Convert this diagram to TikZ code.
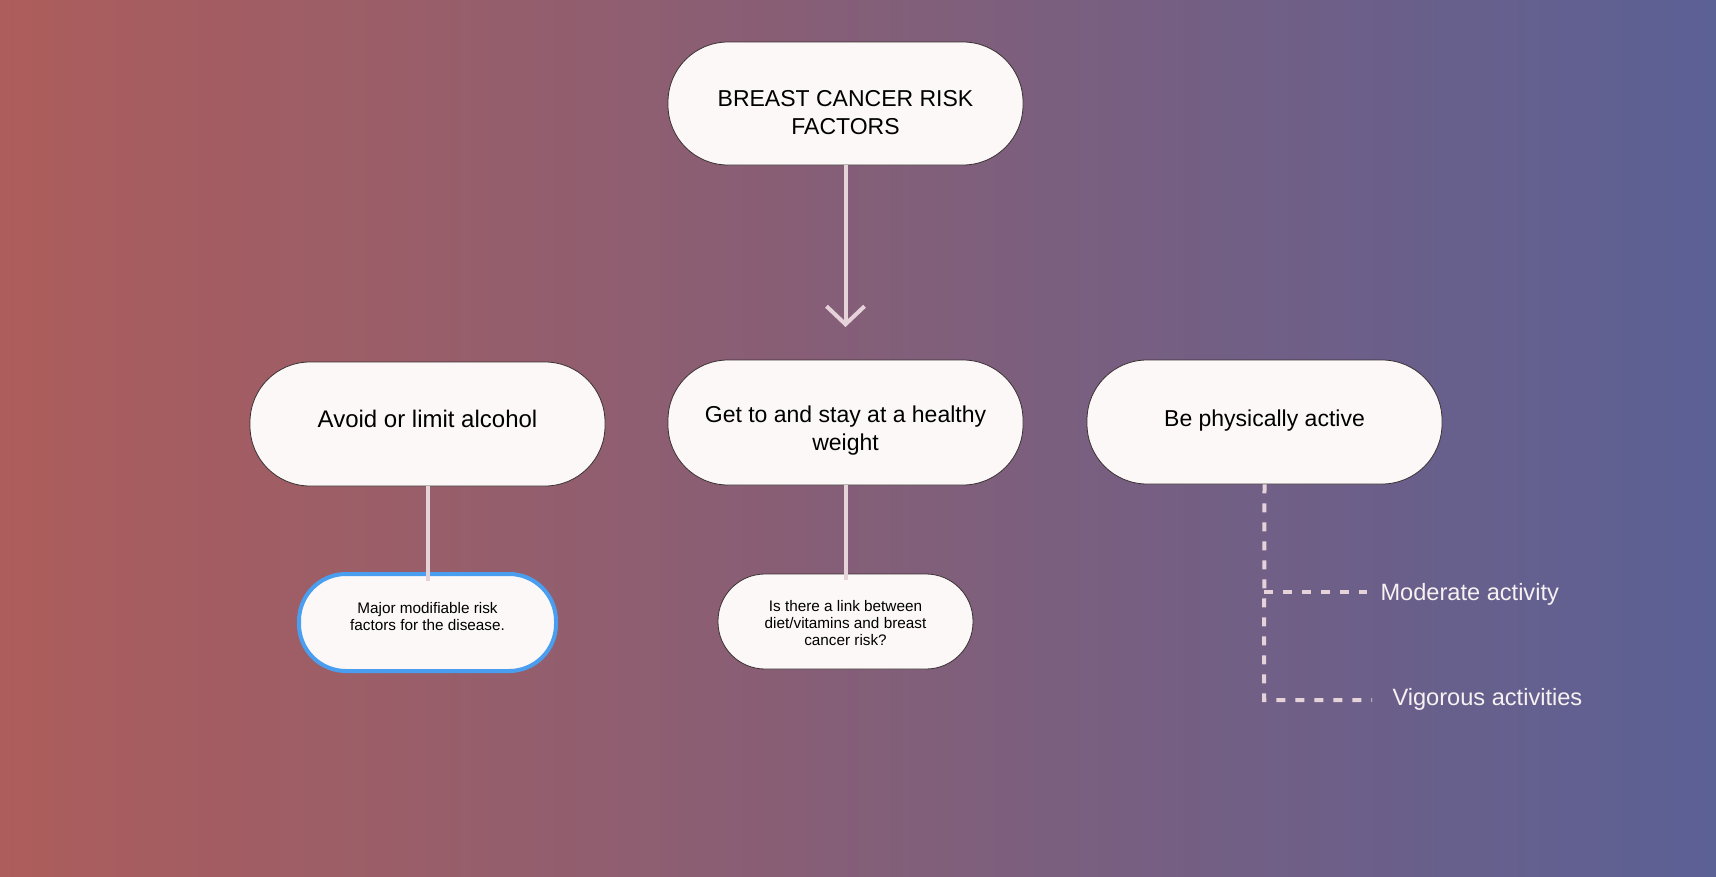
\documentclass[tikz,border=0pt]{standalone}
\usepackage{fontspec}
\setmainfont{Liberation Sans}
\usetikzlibrary{arrows.meta}
\definecolor{bgL}{HTML}{AD5D5B}
\definecolor{bgR}{HTML}{5B6095}
\definecolor{boxfill}{HTML}{FCF8F7}
\definecolor{boxline}{HTML}{3A3033}
\definecolor{conn}{HTML}{E6D3DA}
\definecolor{hilite}{HTML}{4A9EF0}
\definecolor{lbl}{HTML}{F7F1F2}
\begin{document}
\begin{tikzpicture}[x=1pt,y=-1pt,
  pill/.style={draw=boxline, line width=0.8pt, fill=boxfill, rounded corners=60pt, inner sep=0pt,
    minimum width=355pt, minimum height=124pt},
  smallpill/.style={draw=boxline, line width=0.8pt, fill=boxfill, rounded corners=47pt, inner sep=0pt,
    minimum width=255pt, minimum height=95pt},
  bigtxt/.style={anchor=base, align=center, text=black, font=\fontsize{23}{27.5}\selectfont},
  smalltxt/.style={anchor=base, align=center, text=black, font=\fontsize{15.3}{17}\selectfont},
  sidetxt/.style={anchor=base west, text=lbl, font=\fontsize{23.6}{28}\selectfont},
  solidconn/.style={draw=conn, line width=4pt},
  dashconn/.style={draw=conn, line width=4pt, dash pattern=on 9pt off 10pt}]
\useasboundingbox (0,0) rectangle (1716,876);
\shade[left color=bgL, right color=bgR] (0,0) rectangle (1716,876);

% boxes
\node[pill, minimum height=123pt] (top) at (845.5,103.5) {};
\node[pill] (avoid) at (427.5,424) {};
\node[pill, minimum height=125pt] (weight) at (845.5,422.5) {};
\node[pill] (active) at (1264.5,422) {};
\node[smallpill, draw=hilite, line width=4pt, minimum width=257pt, minimum height=97pt] (major) at (427.5,622.5) {};
\node[smallpill] (diet) at (845.5,621.5) {};

% arrow
\coordinate (tip) at (845.5,327);
\draw[solidconn, -{Straight Barb[length=18pt,width=38pt]}] (top.south) -- (tip);

% solid connectors
\draw[solidconn] (avoid.south) -- ([yshift=-9pt]major.north);
\draw[solidconn] (weight.south) -- ([yshift=-6pt]diet.north);

% texts (base anchor = baseline of the last line)
\node[bigtxt] (topT) at (845.5,134) {BREAST CANCER RISK\\FACTORS};
\node[bigtxt, font=\fontsize{24}{28}\selectfont] (avoidT) at (427.5,427.7) {Avoid or limit alcohol};
\node[bigtxt] (weightT) at (845.5,450) {Get to and stay at a healthy\\weight};
\node[bigtxt] (activeT) at (1264.5,426) {Be physically active};
\node[smalltxt] (majorT) at (427.5,630.7) {Major modifiable risk\\factors for the disease.};
\node[smalltxt] (dietT) at (845.5,645) {Is there a link between\\diet/vitamins and breast\\cancer risk?};

% dashed connectors
\coordinate (modJ) at (1264,592);
\coordinate (vigJ) at (1264,700);
\coordinate (modE) at (1367,592);
\coordinate (vigE) at (1372,700);
\draw[dashconn] (active.south) -- (vigJ) -- (vigE);
\draw[dashconn] (modJ) -- (modE);
\node[sidetxt] (mod) at (1377,600) {Moderate activity};
\node[sidetxt] (vig) at (1389,705) {Vigorous activities};
\end{tikzpicture}
\end{document}
